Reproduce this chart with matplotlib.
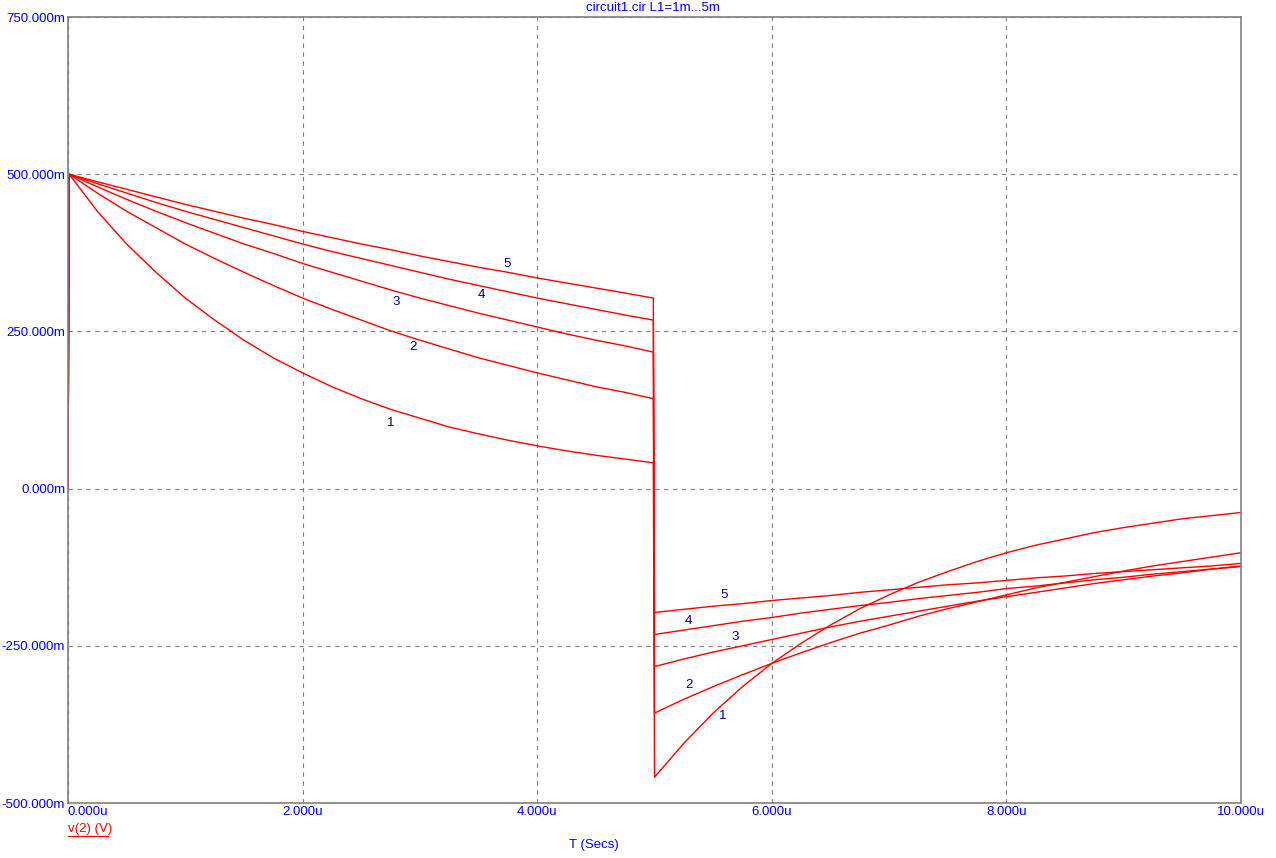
import matplotlib
matplotlib.use("Agg")
import matplotlib.pyplot as plt
from matplotlib.lines import Line2D

# time points (u)
t_first = [0, 0.01, 0.25, 0.5, 0.75, 1.0, 1.25, 1.5, 1.75, 2.0, 2.25, 2.5,
           2.75, 3.0, 3.25, 3.5, 3.75, 4.0, 4.25, 4.5, 4.75, 4.99]
t_second = [5.0, 5.25, 5.5, 5.75, 6.0, 6.25, 6.5, 6.75, 7.0, 7.25, 7.5,
            7.75, 8.0, 8.25, 8.5, 8.75, 9.0, 9.25, 9.5, 9.75, 10.0]

# v(2) in mV for L1 = 1m ... 5m, pulse on then pulse off
v1_first = [0, 500, 441, 389, 344, 303, 268, 236, 208, 184, 162, 143,
            126, 112, 98, 87, 77, 68, 60, 53, 47, 41]
v1_second = [-459, -405, -357, -315, -278, -246, -217, -191, -169, -149, -132,
             -116, -102, -90, -80, -70, -62, -55, -48, -43, -38]
v2_first = [0, 500, 470, 441, 415, 389, 366, 344, 323, 303, 285, 268,
            251, 236, 222, 208, 196, 184, 173, 162, 153, 143]
v2_second = [-357, -335, -315, -296, -278, -261, -245, -230, -217, -203, -191,
             -180, -169, -158, -149, -140, -131, -123, -116, -109, -102]
v3_first = [0, 500, 480, 460, 441, 423, 406, 389, 374, 358, 344, 330,
            316, 303, 291, 279, 268, 257, 246, 236, 227, 217]
v3_second = [-283, -271, -260, -250, -240, -230, -220, -211, -203, -195, -187,
             -179, -172, -165, -158, -151, -145, -139, -134, -128, -123]
v4_first = [0, 500, 485, 470, 455, 441, 428, 415, 402, 389, 377, 366,
            355, 344, 333, 323, 313, 303, 294, 285, 276, 268]
v4_second = [-232, -225, -218, -211, -205, -198, -192, -186, -181, -175, -170,
             -165, -159, -155, -150, -145, -141, -136, -132, -128, -124]
v5_first = [0, 500, 488, 476, 464, 452, 441, 430, 420, 409, 399, 389,
            380, 370, 361, 352, 344, 335, 327, 319, 311, 303]
v5_second = [-197, -192, -187, -183, -178, -174, -170, -165, -161, -157, -153,
             -150, -146, -142, -139, -135, -132, -129, -126, -123, -119]

curves = [(v1_first, v1_second), (v2_first, v2_second), (v3_first, v3_second),
          (v4_first, v4_second), (v5_first, v5_second)]

# curve number labels
label_text = ["1", "2", "3", "4", "5", "1", "2", "3", "4", "5"]
label_x = [2.75, 2.94, 2.80, 3.52, 3.74, 5.58, 5.29, 5.69, 5.29, 5.59]
label_y = [104, 225, 297, 308, 357, -362, -312, -236, -211, -169]

x_ticks = [0, 2, 4, 6, 8, 10]
x_tick_labels = ["0.000u", "2.000u", "4.000u", "6.000u", "8.000u", "10.000u"]
y_ticks = [-500, -250, 0, 250, 500, 750]
y_tick_labels = ["-500.000m", "-250.000m", "0.000m", "250.000m", "500.000m", "750.000m"]

plt.rcParams['font.family'] = ['Liberation Sans', 'DejaVu Sans']
blue = "#0000ff"
gray = "#808080"

W, H = 1276, 858
fig = plt.figure(figsize=(W / 100, H / 100), dpi=100)
ax = fig.add_axes([68 / W, (H - 803) / H, (1241 - 68) / W, (803 - 17) / H])

for first, second in curves:
    ax.plot(t_first + t_second, first + second, color="red", lw=1.0)

for txt, x, y in zip(label_text, label_x, label_y):
    ax.text(x, y, txt, color="#000080", fontsize=9.5, ha="center", va="center")

ax.set_xlim(0, 10)
ax.set_ylim(-500, 750)
ax.set_xticks(x_ticks)
ax.set_yticks(y_ticks)
ax.set_xticklabels(x_tick_labels)
ax.set_yticklabels(y_tick_labels)
ax.tick_params(length=0, labelsize=9.5, labelcolor=blue, pad=2)
ax.get_xticklabels()[0].set_horizontalalignment("left")
ax.grid(True, color=gray, linestyle=(0, (4, 4)), lw=0.8)
for s in ax.spines.values():
    s.set_color(gray)
    s.set_linewidth(1.2)

fig.text(653 / W, 1 - 8 / H, "circuit1.cir L1=1m...5m", color=blue, fontsize=9.5,
         ha="center", va="center")
fig.text(594 / W, 1 - 845 / H, "T (Secs)", color=blue, fontsize=9.5,
         ha="center", va="center")
fig.text(68 / W, 1 - 829 / H, "v(2) (V)", color="red", fontsize=9.5,
         ha="left", va="center")
# underline under the trace name
fig.add_artist(Line2D([68 / W, 108 / W], [1 - 836 / H, 1 - 836 / H],
                      color="red", lw=0.8, transform=fig.transFigure))

fig.savefig("out.png", dpi=100)
